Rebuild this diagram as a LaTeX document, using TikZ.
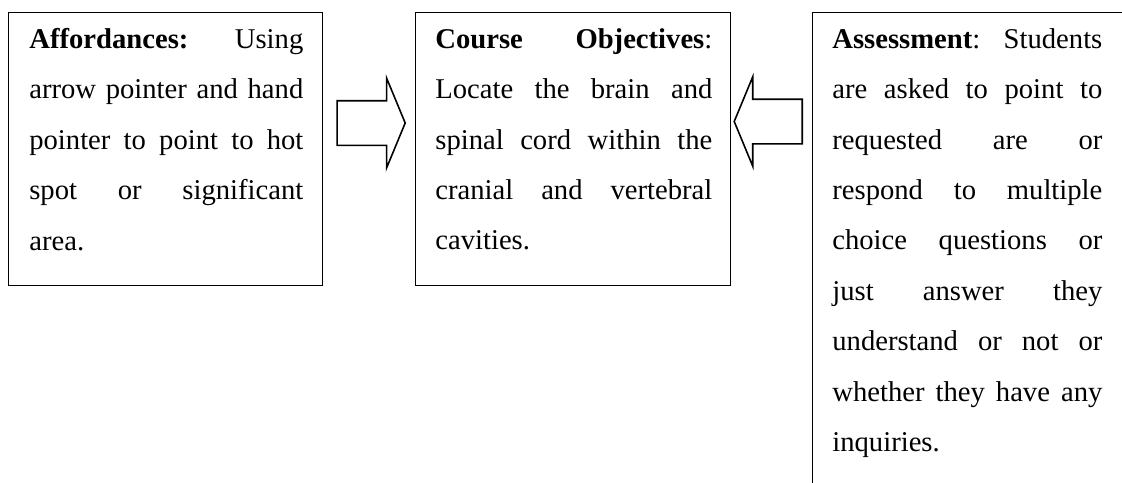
\documentclass[tikz,border=0pt]{standalone}
\usepackage{fontspec}
\setmainfont{Liberation Serif}
\usetikzlibrary{calc,positioning,shapes.arrows}

\tikzset{
  panel/.style={draw,rectangle,line width=0.8pt,inner sep=0pt},
  paneltext/.style={anchor=north west,inner sep=0pt,text width=5.48cm,align=justify,
    font=\fontsize{16.3pt}{28.7pt}\selectfont},
  blockarrow/.style={single arrow,draw,line width=0.9pt,inner xsep=0pt,inner ysep=0.43cm,
    minimum height=1.36cm,minimum width=0pt,single arrow head extend=0.45cm,
    single arrow tip angle=135,anchor=tail}
}

\begin{document}
\begin{tikzpicture}

  \useasboundingbox (0,0) rectangle (22.44,-9.64);
  \clip (0,0) rectangle (22.44,-9.64);

  \node [panel, minimum width=6.28cm, minimum height=5.46cm, anchor=north west] at(0.16,-0.24) (afford) {};
  \node [panel, minimum width=6.3cm, minimum height=5.46cm, anchor=north west] at(8.3,-0.24) (objectives) {};
  \node [panel, minimum width=8cm, minimum height=10cm, anchor=north west] at(16.24,-0.24) (assess) {};

  \node [paneltext] at($(afford.north west) + (.42,-.32)$) (affordtext)
    {\textbf{Affordances:} Using\linebreak arrow pointer and hand\linebreak pointer to point to hot\linebreak spot or significant\linebreak area.};
  \node [paneltext, text width=5.54cm] at($(objectives.north west) + (.4,-.32)$) (objectivestext)
    {\textbf{Course Objectives}:\linebreak Locate the brain and\linebreak spinal cord within the\linebreak cranial and vertebral\linebreak cavities.};
  \node [paneltext, text width=5.4cm] at($(assess.north west) + (.4,-.32)$) (assesstext)
    {\textbf{Assessment}: Students\linebreak are asked to point to\linebreak requested are or\linebreak respond to multiple\linebreak choice questions or\linebreak just answer they\linebreak understand or not or\linebreak whether they have any\linebreak inquiries.};

  \node [blockarrow] at($(afford.north east) + (.26,-2.22)$) (arrowin) {};
  \node [blockarrow, shape border rotate=180] at($(assess.north west) + (-.18,-2.19)$) (arrowback) {};

\end{tikzpicture}
\end{document}
